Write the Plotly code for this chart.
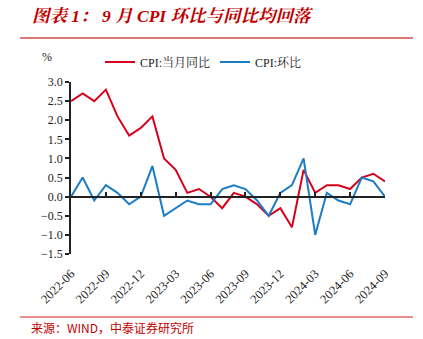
import plotly.graph_objects as go

months = ["2022-06","2022-07","2022-08","2022-09","2022-10","2022-11","2022-12",
          "2023-01","2023-02","2023-03","2023-04","2023-05","2023-06","2023-07",
          "2023-08","2023-09","2023-10","2023-11","2023-12","2024-01","2024-02",
          "2024-03","2024-04","2024-05","2024-06","2024-07","2024-08","2024-09"]
cpi_yoy = [2.5, 2.7, 2.5, 2.8, 2.1, 1.6, 1.8, 2.1, 1.0, 0.7, 0.1, 0.2, 0.0, -0.3,
           0.1, 0.0, -0.2, -0.5, -0.3, -0.8, 0.7, 0.1, 0.3, 0.3, 0.2, 0.5, 0.6, 0.4]
cpi_mom = [0.0, 0.5, -0.1, 0.3, 0.1, -0.2, 0.0, 0.8, -0.5, -0.3, -0.1, -0.2, -0.2, 0.2,
           0.3, 0.2, -0.1, -0.5, 0.1, 0.3, 1.0, -1.0, 0.1, -0.1, -0.2, 0.5, 0.4, 0.0]
tick_idx = list(range(0, len(months), 3))
tick_text = [months[i] for i in tick_idx]

W, H = 423, 339
L, R, T, B = 71, 38, 82, 85
pw, ph = W - L - R, H - T - B
def px(x): return (x - L) / pw
def py(y): return (H - B - y) / ph

xs = list(range(len(months)))
serif = "Liberation Serif, Noto Serif CJK SC, Noto Sans CJK SC, serif"
red = "#D7001C"
blue = "#1C7CC6"

fig = go.Figure()
fig.add_trace(go.Scatter(x=xs, y=cpi_yoy, mode="lines", name="CPI:当月同比",
                         line=dict(color=red, width=2)))
fig.add_trace(go.Scatter(x=xs, y=cpi_mom, mode="lines", name="CPI:环比",
                         line=dict(color=blue, width=2)))
fig.add_trace(go.Scatter(x=[], y=[], xaxis="x2", showlegend=False, hoverinfo="skip"))

fig.update_layout(
    width=W, height=H,
    margin=dict(l=L, r=R, t=T, b=B),
    paper_bgcolor="white", plot_bgcolor="white",
    font=dict(family=serif, size=12, color="#222"),
    xaxis=dict(range=[0, len(months) - 1], tickvals=tick_idx, ticktext=tick_text,
               tickangle=-45, showgrid=False, zeroline=False, showline=False,
               ticks="", ticklabelstandoff=9,
               tickfont=dict(family=serif, size=12.5, color="#222")),
    xaxis2=dict(range=[0, len(months) - 1], overlaying="x", anchor="free",
                position=1.5 / 4.5, tickvals=tick_idx[1:], ticks="inside", ticklen=4,
                tickwidth=1.5, tickcolor="#222", showline=True, linecolor="#222",
                linewidth=1.5, showticklabels=False, showgrid=False, zeroline=False),
    yaxis=dict(range=[-1.5, 3.0], dtick=0.5, tickformat=".1f", ticks="outside",
               ticklen=4, tickwidth=1.5, tickcolor="#222", showline=True,
               linecolor="#222", linewidth=1.5, showgrid=False, zeroline=False,
               tickfont=dict(family=serif, size=12, color="#222")),
    legend=dict(orientation="h", x=px(100), y=py(62), xanchor="left", yanchor="middle",
                font=dict(family=serif, size=12, color="#222"), bgcolor="rgba(0,0,0,0)",
                itemwidth=30, tracegroupgap=0),
    showlegend=True,
)

fig.add_annotation(text="<b><i>图表 1： 9 月 CPI 环比与同比均回落</i></b>", xref="paper", yref="paper",
                   x=px(30), y=py(16), xanchor="left", yanchor="middle", showarrow=False,
                   font=dict(family=serif, size=17.5, color="#C00000"))
fig.add_annotation(text="%", xref="paper", yref="paper", x=px(40), y=py(57),
                   xanchor="left", yanchor="middle", showarrow=False,
                   font=dict(family=serif, size=12, color="#222"))
fig.add_annotation(text="来源：WIND，中泰证券研究所", xref="paper", yref="paper",
                   x=px(29), y=py(327), xanchor="left", yanchor="middle", showarrow=False,
                   font=dict(family="Noto Sans CJK SC, sans-serif", size=12, color="#C00000"))
fig.add_shape(type="line", xref="paper", yref="paper", x0=px(20), x1=px(413),
              y0=py(38), y1=py(38), line=dict(color="#E07878", width=2))
fig.add_shape(type="line", xref="paper", yref="paper", x0=px(20), x1=px(413),
              y0=py(317), y1=py(317), line=dict(color="#D02020", width=1))

fig.write_html("out.html")
